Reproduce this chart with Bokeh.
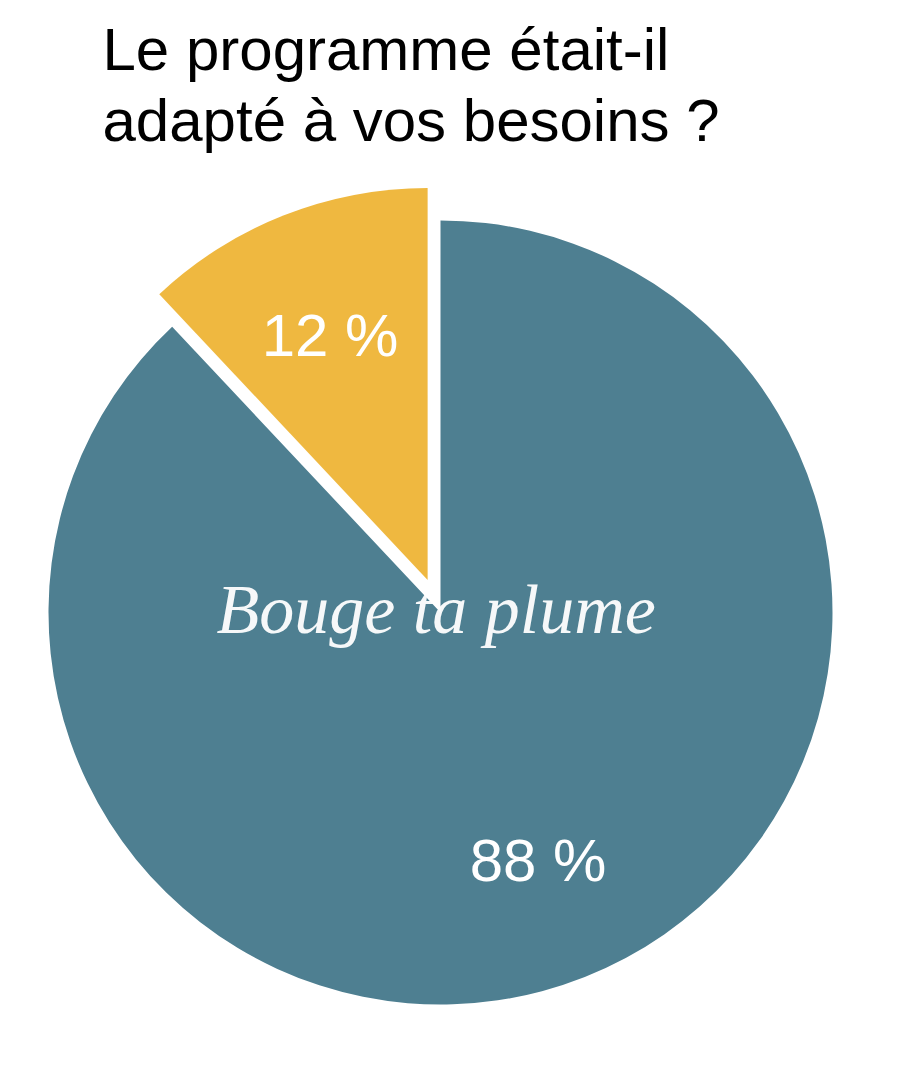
import math
from bokeh.plotting import figure
from bokeh.models import Range1d, ColumnDataSource
from bokeh.core.properties import value
from bokeh.embed import file_html
from bokeh.resources import INLINE

# ---- data ----
title_lines = ["Le programme était-il", "adapté à vos besoins ?"]
categories = ["Non", "Oui"]          # drawn counter-clockwise from 12 o'clock
percentages = [12, 88]
labels = ["12 %", "88 %"]
colors = ["#EFB840", "#4E7F91"]
exploded = [True, False]
watermark = "Bouge ta plume"

# ---- layout (pixel-like data units) ----
W, H = 900, 1052
CX, CY, R = 440, 440, 392
EXPLODE = 35
LABEL_R = 265

p = figure(width=W, height=H, x_range=Range1d(0, W), y_range=Range1d(0, H),
           output_backend="svg", toolbar_location=None, min_border=0)
p.axis.visible = False
p.grid.visible = False
p.outline_line_color = None
p.background_fill_color = "white"

total = sum(percentages)
start = math.pi / 2
xs, ys, starts, ends, lx, ly = [], [], [], [], [], []
for pct, ex in zip(percentages, exploded):
    ang = 2 * math.pi * pct / total
    mid = start + ang / 2
    off = EXPLODE if ex else 0
    cx = CX + off * math.cos(mid)
    cy = CY + off * math.sin(mid)
    xs.append(cx); ys.append(cy)
    starts.append(start); ends.append(start + ang)
    lx.append(cx + LABEL_R * math.cos(mid))
    ly.append(cy + LABEL_R * math.sin(mid))
    start += ang

src = ColumnDataSource(dict(x=xs, y=ys, start=starts, end=ends, color=colors,
                            lx=lx, ly=ly, label=labels, cat=categories))

p.wedge(x="x", y="y", radius=R, start_angle="start", end_angle="end",
        fill_color="color", line_color=None, source=src)

p.text(x="lx", y="ly", text="label", source=src, text_color="white",
       text_font=value("Liberation Sans"), text_font_size="60px",
       text_align="center", text_baseline="alphabetic", y_offset=2)

# watermark
p.text(x=[216], y=[CY + 3], text=[watermark], text_color="white",
       text_alpha=0.95, text_font=value("Liberation Serif"), text_font_style="italic",
       text_font_size="70px", text_align="left", text_baseline="alphabetic")

# title
p.text(x=[102, 102], y=[1003, 932], text=title_lines, text_color="black",
       text_font=value("Liberation Sans"), text_font_size="60px",
       text_align="left", text_baseline="alphabetic")

open("out.html", "w").write(file_html(p, INLINE))
